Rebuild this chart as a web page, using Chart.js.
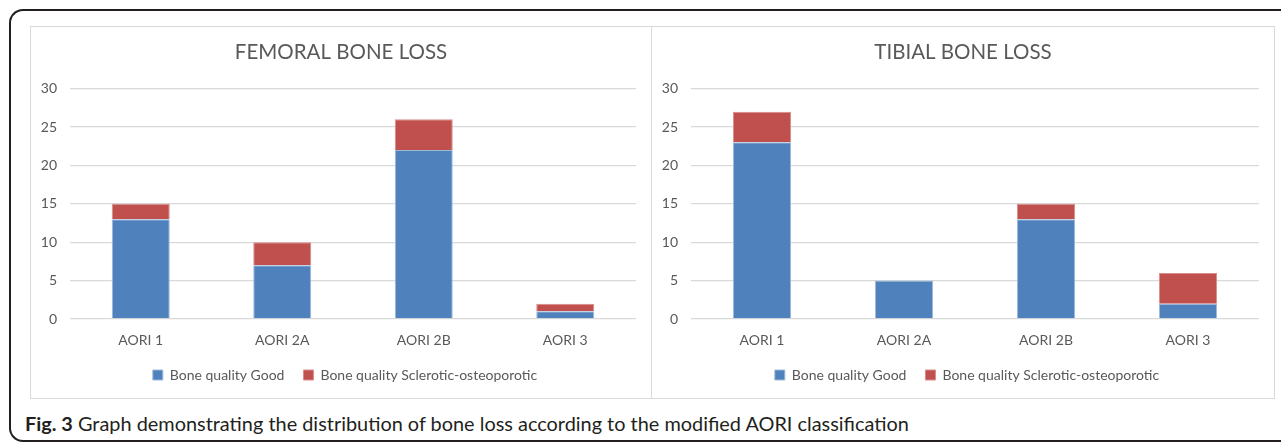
<!DOCTYPE html>
<html>
<head>
<meta charset="utf-8">
<script src="https://cdn.jsdelivr.net/npm/chart.js@4.4.1/dist/chart.umd.min.js"></script>
<style>
  html, body { margin: 0; padding: 0; background: #fff; }
  body { width: 1281px; height: 442px; position: relative; overflow: hidden; }
  .frame {
    position: absolute; left: 9px; top: 9px; width: 1300px; height: 429px;
    border: 2px solid #231f20; border-right: none; border-radius: 14px 0 0 14px;
  }
  .panel { position: absolute; top: 26px; height: 373px; border: 1px solid #d9d9d9; box-sizing: border-box; }
  #p1 { left: 30px; width: 622px; }
  #p2 { left: 651px; width: 624px; }
  canvas { position: absolute; top: 26px; }
  #femoral { left: 30px; }
  #tibial { left: 651px; }
  .caption {
    position: absolute; left: 25px; top: 411px;
    font-family: "Lato", sans-serif; font-size: 19.9px; color: #231f20; white-space: nowrap;
  }
  .caption b { font-weight: 700; }
</style>
</head>
<body>
<div class="frame"></div>
<div class="panel" id="p1"></div>
<div class="panel" id="p2"></div>
<canvas id="femoral" width="621" height="373"></canvas>
<canvas id="tibial" width="623" height="373"></canvas>
<div class="caption"><b>Fig. 3</b> Graph demonstrating the distribution of bone loss according to the modified AORI classification</div>

<script>
const categories = ["AORI 1", "AORI 2A", "AORI 2B", "AORI 3"];
const seriesNames = ["Bone quality Good", "Bone quality Sclerotic-osteoporotic"];

// femoral
const femoralGood = [13, 7, 22, 1];
const femoralSclerotic = [2, 3, 4, 1];

// tibial
const tibialGood = [23, 5, 13, 2];
const tibialSclerotic = [4, 0, 2, 4];

const yMax = 30;
const yStep = 5;

const textColor = "#595959";
const fontFamily = "Lato, 'Liberation Sans', sans-serif";

// title and legend sit a bit right of the canvas centre in the original
const nudge = {
  id: "nudge",
  afterLayout(chart) {
    if (chart.titleBlock) chart.titleBlock.left += 16;
    if (chart.legend) chart.legend.left += 24;
  }
};

function makeChart(id, title, good, sclerotic) {
  return new Chart(document.getElementById(id), {
    type: "bar",
    data: {
      labels: categories,
      datasets: [
        {
          label: seriesNames[0],
          data: good,
          backgroundColor: "#4F81BD",
          borderColor: "#9DB9DC",
          borderWidth: 1,
          categoryPercentage: 1,
          barPercentage: 0.41
        },
        {
          label: seriesNames[1],
          data: sclerotic,
          backgroundColor: "#C0504D",
          borderColor: "#D98C8A",
          borderWidth: 1,
          categoryPercentage: 1,
          barPercentage: 0.41
        }
      ]
    },
    plugins: [nudge],
    options: {
      responsive: false,
      animation: false,
      layout: { padding: { top: 14, right: 15, left: 0, bottom: 7 } },
      plugins: {
        title: {
          display: true,
          text: title,
          color: textColor,
          font: { family: fontFamily, size: 20.5, weight: "normal" },
          padding: { top: 0, bottom: 24 }
        },
        legend: {
          position: "bottom",
          labels: {
            color: textColor,
            font: { family: fontFamily, size: 14 },
            boxWidth: 10,
            boxHeight: 10,
            padding: 19
          }
        },
        tooltip: { enabled: false }
      },
      scales: {
        x: {
          stacked: true,
          afterFit: s => { s.height = 30; },
          grid: { display: false, drawTicks: false, tickLength: 0 },
          border: { display: false },
          ticks: { color: textColor, font: { family: fontFamily, size: 14 }, padding: 13 }
        },
        y: {
          stacked: true,
          min: 0,
          max: yMax,
          afterFit: s => { s.width = 40; },
          grid: { color: "#d9d9d9", lineWidth: 1.3, drawTicks: false },
          border: { display: false },
          ticks: { stepSize: yStep, color: textColor, font: { family: fontFamily, size: 14 }, padding: 13 }
        }
      }
    }
  });
}

makeChart("femoral", "FEMORAL BONE LOSS", femoralGood, femoralSclerotic);
makeChart("tibial", "TIBIAL BONE LOSS", tibialGood, tibialSclerotic);
</script>
</body>
</html>
